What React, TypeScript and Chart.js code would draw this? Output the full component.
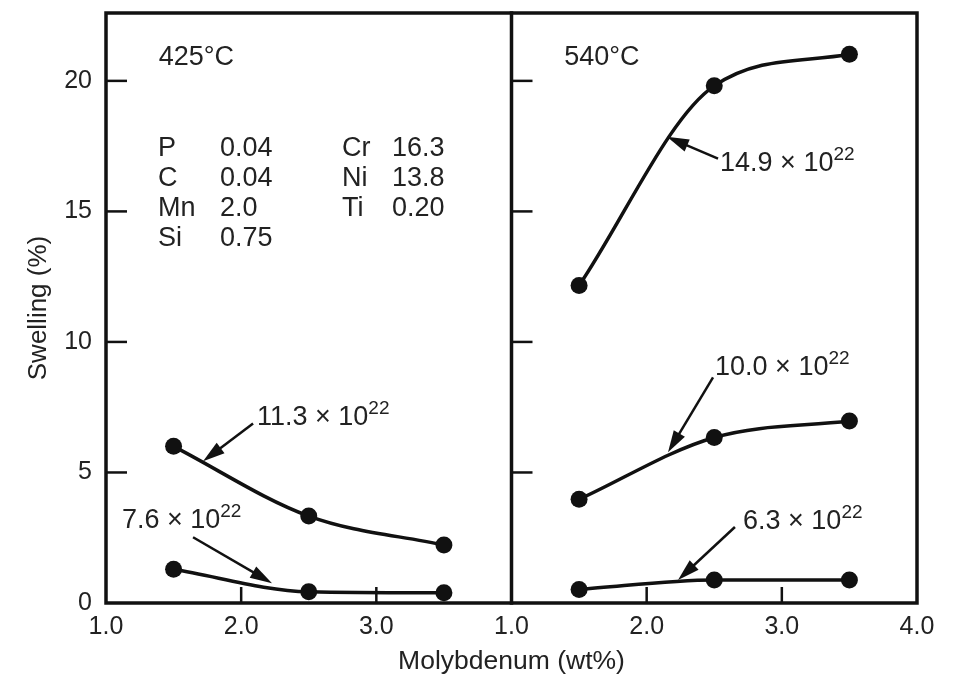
import React, { useEffect, useRef } from 'react';
import { Chart, registerables } from 'chart.js';

Chart.register(...registerables);

// ---- data ----
const molybdenum = [1.5, 2.5, 3.5];
const swell425_113 = [6.0, 3.33, 2.22];
const swell425_76 = [1.29, 0.43, 0.39];
const swell540_149 = [12.16, 19.81, 21.02];
const swell540_100 = [3.97, 6.34, 6.97];
const swell540_63 = [0.52, 0.88, 0.88];
const yTickValues = [0, 5, 10, 15, 20];
const xTickValues = [1, 2, 3, 4];
const panelTitles = ['425°C', '540°C'];
const fluence425 = ['11.3', '7.6'];
const fluence540 = ['14.9', '10.0', '6.3'];
const compElemA = ['P', 'C', 'Mn', 'Si'];
const compValA = ['0.04', '0.04', '2.0', '0.75'];
const compElemB = ['Cr', 'Ni', 'Ti'];
const compValB = ['16.3', '13.8', '0.20'];

// ---- layout / placement (data coordinates of each panel) ----
const FONT = "'Liberation Sans', Arial, Helvetica, sans-serif";
const TEXT = '#222';
const INK = '#111';
const annot425 = [
  { tx: 2.117, ty: 6.81, ax: 2.088, ay: 6.88, hx: 1.718, hy: 5.43 },
  { tx: 1.118, ty: 2.87, ax: 1.644, ay: 2.52, hx: 2.228, hy: 0.76 },
];
const annot540 = [
  { tx: 2.543, ty: 16.56, ax: 2.528, ay: 17.02, hx: 2.15, hy: 17.86 },
  { tx: 2.506, ty: 8.72, ax: 2.491, ay: 8.64, hx: 2.158, hy: 5.77 },
  { tx: 2.713, ty: 2.83, ax: 2.653, ay: 2.91, hx: 2.232, hy: 0.88 },
];
const titlePos = { x: 1.39, y: 20.61 };
const compCols = [1.385, 1.843, 2.746, 3.116];
const compRow0 = 17.13;
const compRowStep = 1.147;

function drawArrow(ctx: CanvasRenderingContext2D, x1: number, y1: number, x2: number, y2: number) {
  const ang = Math.atan2(y2 - y1, x2 - x1);
  const L = 22, W = 6.5;
  ctx.beginPath();
  ctx.moveTo(x1, y1);
  ctx.lineTo(x2 - Math.cos(ang) * L * 0.7, y2 - Math.sin(ang) * L * 0.7);
  ctx.lineWidth = 2.5;
  ctx.stroke();
  ctx.beginPath();
  ctx.moveTo(x2, y2);
  ctx.lineTo(x2 - Math.cos(ang) * L - Math.sin(ang) * W, y2 - Math.sin(ang) * L + Math.cos(ang) * W);
  ctx.lineTo(x2 - Math.cos(ang) * L + Math.sin(ang) * W, y2 - Math.sin(ang) * L - Math.cos(ang) * W);
  ctx.closePath();
  ctx.fill();
}

function drawFluence(ctx: CanvasRenderingContext2D, x: number, y: number, mant: string) {
  ctx.font = `27px ${FONT}`;
  const base = `${mant} \u00d7 10`;
  ctx.fillText(base, x, y);
  const w = ctx.measureText(base).width;
  ctx.font = `19px ${FONT}`;
  ctx.fillText('22', x + w, y - 11);
}

const framePlugin = {
  id: 'framePlugin',
  beforeDatasetsDraw(chart: any) {
    const { ctx, chartArea: ca, scales } = chart;
    const xL = scales.xL, xR = scales.xR, y = scales.y;
    ctx.save();
    ctx.strokeStyle = INK;
    ctx.lineWidth = 3.5;
    ctx.lineCap = 'square';
    ctx.strokeRect(ca.left, ca.top, ca.right - ca.left, ca.bottom - ca.top);
    ctx.beginPath();
    ctx.moveTo(xR.left, ca.top);
    ctx.lineTo(xR.left, ca.bottom);
    ctx.stroke();
    ctx.lineWidth = 2.5;
    ctx.lineCap = 'butt';
    yTickValues.filter((v) => v > 0).forEach((v) => {
      const py = y.getPixelForValue(v);
      [xL.left, xR.left].forEach((x0: number) => {
        ctx.beginPath();
        ctx.moveTo(x0, py);
        ctx.lineTo(x0 + 21, py);
        ctx.stroke();
      });
    });
    xTickValues.filter((v) => v > 1 && v < 4).forEach((v) => {
      [xL, xR].forEach((s: any) => {
        const px = s.getPixelForValue(v);
        ctx.beginPath();
        ctx.moveTo(px, ca.bottom);
        ctx.lineTo(px, ca.bottom - 16);
        ctx.stroke();
      });
    });
    ctx.restore();
  },
  afterDatasetsDraw(chart: any) {
    const { ctx, chartArea: ca, scales } = chart;
    const xL = scales.xL, xR = scales.xR, y = scales.y;
    ctx.save();
    ctx.fillStyle = TEXT;
    ctx.strokeStyle = INK;
    ctx.textAlign = 'left';
    ctx.textBaseline = 'alphabetic';
    // panel titles
    ctx.font = `27px ${FONT}`;
    ctx.fillText(panelTitles[0], xL.getPixelForValue(titlePos.x), y.getPixelForValue(titlePos.y));
    ctx.fillText(panelTitles[1], xR.getPixelForValue(titlePos.x), y.getPixelForValue(titlePos.y));
    // composition
    const cols = [compElemA, compValA, compElemB, compValB];
    cols.forEach((col, ci) => {
      col.forEach((t, ri) => {
        ctx.fillText(t, xL.getPixelForValue(compCols[ci]), y.getPixelForValue(compRow0 - ri * compRowStep));
      });
    });
    // annotations
    const groups: [any, any[], string[]][] = [[xL, annot425, fluence425], [xR, annot540, fluence540]];
    groups.forEach(([sx, list, labels]) => {
      list.forEach((a: any, i: number) => {
        ctx.fillStyle = INK;
        drawArrow(ctx, sx.getPixelForValue(a.ax), y.getPixelForValue(a.ay), sx.getPixelForValue(a.hx), y.getPixelForValue(a.hy));
        ctx.fillStyle = TEXT;
        drawFluence(ctx, sx.getPixelForValue(a.tx), y.getPixelForValue(a.ty), labels[i]);
      });
    });
    // x-axis title
    ctx.font = `26.5px ${FONT}`;
    ctx.textAlign = 'center';
    ctx.fillText('Molybdenum (wt%)', (ca.left + ca.right) / 2, ca.bottom + 66);
    ctx.restore();
  },
};

function lineDs(label: string, data: number[], xAxisID: string) {
  return {
    label,
    data: molybdenum.map((m, i) => ({ x: m, y: data[i] })),
    xAxisID,
    yAxisID: 'y',
    borderColor: INK,
    backgroundColor: INK,
    pointBackgroundColor: INK,
    pointBorderColor: INK,
    borderWidth: 3.5,
    pointRadius: 8.5,
    pointBorderWidth: 0,
    cubicInterpolationMode: 'monotone' as const,
    fill: false,
  };
}

function xAxis(hideLast: boolean) {
  return {
    type: 'linear' as const,
    position: 'bottom' as const,
    stack: 'panels',
    stackWeight: 1,
    min: 1,
    max: 4,
    grid: { display: false, drawTicks: false },
    border: { display: false },
    afterBuildTicks: (s: any) => {
      s.ticks = xTickValues.map((v) => ({ value: v }));
    },
    afterFit: (s: any) => {
      s.height = 83;
      s.paddingLeft = 0;
      s.paddingRight = 0;
      s.paddingTop = 0;
      s.paddingBottom = 0;
    },
    ticks: {
      autoSkip: false,
      maxRotation: 0,
      padding: 9,
      color: TEXT,
      font: { family: FONT, size: 25 },
      callback: (v: any) => (hideLast && v === 4 ? '' : Number(v).toFixed(1)),
    },
  };
}

export default function App() {
  const ref = useRef<HTMLCanvasElement>(null);
  useEffect(() => {
    if (!ref.current) return;
    const chart = new Chart(ref.current, {
      type: 'line',
      data: {
        datasets: [
          lineDs('425 11.3', swell425_113, 'xL'),
          lineDs('425 7.6', swell425_76, 'xL'),
          lineDs('540 14.9', swell540_149, 'xR'),
          lineDs('540 10.0', swell540_100, 'xR'),
          lineDs('540 6.3', swell540_63, 'xR'),
        ],
      },
      options: {
        animation: false,
        responsive: false,
        events: [],
        layout: { autoPadding: false, padding: { left: 0, top: 13, right: 48, bottom: 0 } },
        plugins: { legend: { display: false }, tooltip: { enabled: false } },
        scales: {
          xL: xAxis(true),
          xR: xAxis(false),
          y: {
            type: 'linear',
            position: 'left',
            min: 0,
            max: 22.6,
            grid: { display: false, drawTicks: false },
            border: { display: false },
            afterBuildTicks: (s: any) => {
              s.ticks = yTickValues.map((v) => ({ value: v }));
            },
            afterFit: (s: any) => {
              s.width = 106;
              s.paddingTop = 0;
              s.paddingBottom = 0;
              s.paddingLeft = 0;
              s.paddingRight = 0;
            },
            ticks: { padding: 14, color: TEXT, font: { family: FONT, size: 25 } },
            title: {
              display: true,
              text: 'Swelling (%)',
              color: TEXT,
              font: { family: FONT, size: 26 },
              padding: { top: 23, bottom: 0 },
            },
          },
        } as any,
      },
      plugins: [framePlugin],
    } as any);
    return () => chart.destroy();
  }, []);
  return (
    <div style={{ position: 'absolute', left: 0, top: 0, width: 965, height: 686, background: '#fff' }}>
      <canvas ref={ref} width={965} height={686} style={{ display: 'block' }} />
    </div>
  );
}
